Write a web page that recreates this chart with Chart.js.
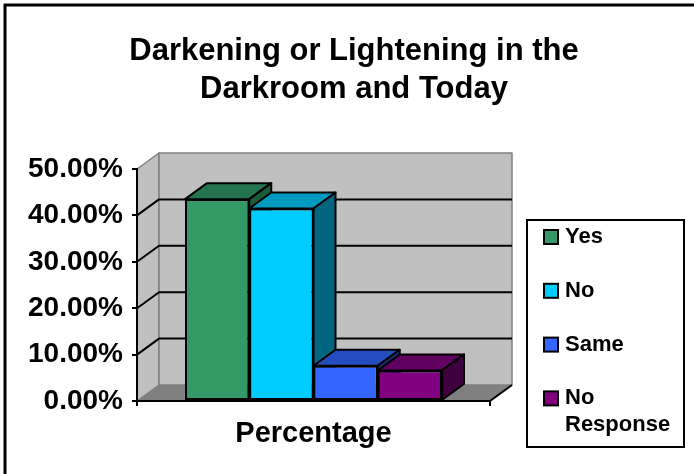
<!DOCTYPE html>
<html>
<head>
<meta charset="utf-8">
<script src="https://cdn.jsdelivr.net/npm/chart.js@4.4.0/dist/chart.umd.min.js"></script>
<style>
  html, body { margin: 0; padding: 0; background: #fff; }
  canvas { display: block; }
</style>
</head>
<body>
<canvas id="darkroomChart" width="694" height="474"></canvas>
<script>
// Answers to "darkening or lightening" question, one bar per answer
const categories = ['Percentage'];
const answerLabels = ['Yes', 'No', 'Same', 'No Response'];
const answerValues = [43.5, 41.5, 7.6, 6.6];
const yMax = 50;
const yStep = 10;

// Box face colours: front, top (lighter shade), side (darker shade)
const frontColors = ['#339966', '#00ccff', '#3366ff', '#800080'];
const topColors = ['#267350', '#0099bf', '#264dc0', '#600060'];
const sideColors = ['#1c5a3c', '#006680', '#1a3380', '#400040'];

const FONT = "'Liberation Sans', Arial, sans-serif";
const DX = 22;   // depth offset of the 3D box
const DY = -16;

function shape(ctx, pts, fill, stroke, width) {
  ctx.beginPath();
  ctx.moveTo(pts[0][0], pts[0][1]);
  for (let i = 1; i < pts.length; i++) ctx.lineTo(pts[i][0], pts[i][1]);
  ctx.closePath();
  if (fill) {
    ctx.fillStyle = fill;
    ctx.fill();
  }
  if (stroke) {
    ctx.strokeStyle = stroke;
    ctx.lineWidth = width;
    ctx.lineJoin = 'round';
    ctx.stroke();
  }
}

function polyline(ctx, pts, color, width) {
  ctx.beginPath();
  ctx.moveTo(pts[0][0], pts[0][1]);
  for (let i = 1; i < pts.length; i++) ctx.lineTo(pts[i][0], pts[i][1]);
  ctx.strokeStyle = color;
  ctx.lineWidth = width;
  ctx.stroke();
}

// split a legend label into lines that fit the legend width
function wrapText(ctx, text, maxWidth) {
  const words = text.split(' ');
  const lines = [];
  let line = '';
  words.forEach(w => {
    const test = line ? line + ' ' + w : w;
    if (line && ctx.measureText(test).width > maxWidth) {
      lines.push(line);
      line = w;
    } else {
      line = test;
    }
  });
  if (line) lines.push(line);
  return lines;
}

const box3dPlugin = {
  id: 'box3d',
  // walls, floor and gridlines behind everything
  beforeDraw(chart) {
    const { ctx, chartArea: a, scales: { y } } = chart;
    ctx.save();
    ctx.fillStyle = '#ffffff';
    ctx.fillRect(0, 0, chart.width, chart.height);

    const top = y.getPixelForValue(y.max);
    const bottom = y.getPixelForValue(y.min);

    // left side wall
    shape(ctx, [[a.left, top], [a.left + DX, top + DY], [a.left + DX, bottom + DY], [a.left, bottom]],
      '#c0c0c0', '#808080', 1.5);
    // back wall
    shape(ctx, [[a.left + DX, top + DY], [a.right + DX, top + DY], [a.right + DX, bottom + DY], [a.left + DX, bottom + DY]],
      '#c0c0c0', '#808080', 1.5);
    // floor
    shape(ctx, [[a.left, bottom], [a.right, bottom], [a.right + DX, bottom + DY], [a.left + DX, bottom + DY]],
      '#808080', null);
    polyline(ctx, [[a.right, bottom], [a.right + DX, bottom + DY]], '#000000', 2);

    // gridlines run across the side wall and the back wall
    y.ticks.forEach(t => {
      if (t.value <= y.min || t.value >= y.max) return;
      const py = y.getPixelForValue(t.value);
      polyline(ctx, [[a.left, py], [a.left + DX, py + DY], [a.right + DX, py + DY]], '#000000', 2);
    });
    ctx.restore();
  },
  // top and side faces of each column, left to right so fronts cover them
  beforeDatasetsDraw(chart) {
    const ctx = chart.ctx;
    ctx.save();
    chart.data.datasets.forEach((ds, i) => {
      const meta = chart.getDatasetMeta(i);
      meta.data.forEach(bar => {
        const { x, y, base, width } = bar.getProps(['x', 'y', 'base', 'width'], true);
        const l = x - width / 2;
        const r = x + width / 2;
        shape(ctx, [[l, y], [r, y], [r + DX, y + DY], [l + DX, y + DY]], topColors[i], '#000000', 2);
        shape(ctx, [[r, y], [r + DX, y + DY], [r + DX, base + DY], [r, base]], sideColors[i], '#000000', 2);
      });
    });
    ctx.restore();
  },
  // boxed legend and the outer frame
  afterDraw(chart) {
    const ctx = chart.ctx;
    ctx.save();
    ctx.strokeStyle = '#000000';
    ctx.lineWidth = 2;
    ctx.strokeRect(527, 220, 157, 227);

    ctx.font = 'bold 22px ' + FONT;
    ctx.textBaseline = 'middle';
    ctx.textAlign = 'left';
    chart.data.datasets.forEach((ds, i) => {
      const cy = 237 + i * 53.8;
      ctx.fillStyle = ds.backgroundColor;
      ctx.fillRect(544, cy - 7, 14, 14);
      ctx.strokeRect(544, cy - 7, 14, 14);
      ctx.fillStyle = '#000000';
      wrapText(ctx, ds.label, 112).forEach((ln, k) => {
        ctx.fillText(ln, 565, cy + k * 26.5);
      });
    });

    ctx.lineWidth = 3;
    ctx.strokeRect(5, 5, 720, 500);
    ctx.restore();
  }
};

const canvas = document.getElementById('darkroomChart');
window.darkroomChart = new Chart(canvas, {
  type: 'bar',
  data: {
    labels: categories,
    datasets: answerLabels.map((label, i) => ({
      label: label,
      data: [answerValues[i]],
      backgroundColor: frontColors[i],
      borderColor: '#000000',
      borderWidth: 2,
      borderSkipped: false,
      categoryPercentage: 0.728,
      barPercentage: 1.0
    }))
  },
  plugins: [box3dPlugin],
  options: {
    responsive: false,
    animation: false,
    events: [],
    layout: { padding: { left: 14, right: 0, top: 0, bottom: 0 } },
    plugins: {
      legend: { display: false },
      tooltip: { enabled: false },
      title: {
        display: true,
        text: ['Darkening or Lightening in the', 'Darkroom and Today'],
        color: '#000000',
        font: { family: FONT, size: 31, weight: 'bold', lineHeight: '38px' },
        padding: { top: 32, bottom: 61 }
      }
    },
    scales: {
      x: {
        grid: { display: true, drawOnChartArea: false, drawTicks: true, tickLength: 5, color: '#000000', lineWidth: 2 },
        border: { display: true, color: '#000000', width: 2 },
        ticks: { color: '#000000', font: { family: FONT, size: 29, weight: 'bold' }, padding: 11 },
        afterFit: scale => { scale.height = 73; }
      },
      y: {
        min: 0,
        max: yMax,
        grid: { drawOnChartArea: false, drawTicks: true, tickLength: 5, color: '#000000', lineWidth: 2 },
        border: { display: true, color: '#000000', width: 2 },
        ticks: {
          stepSize: yStep,
          color: '#000000',
          font: { family: FONT, size: 28, weight: 'bold' },
          padding: 9,
          callback: v => v.toFixed(2) + '%'
        },
        afterFit: scale => { scale.width = 123; }
      },
      // empty right-hand axis keeps room for the legend box
      legendSpace: {
        type: 'linear',
        position: 'right',
        grid: { display: false },
        border: { display: false },
        ticks: { display: false },
        afterFit: scale => { scale.width = 204; }
      }
    }
  }
});
</script>
</body>
</html>
